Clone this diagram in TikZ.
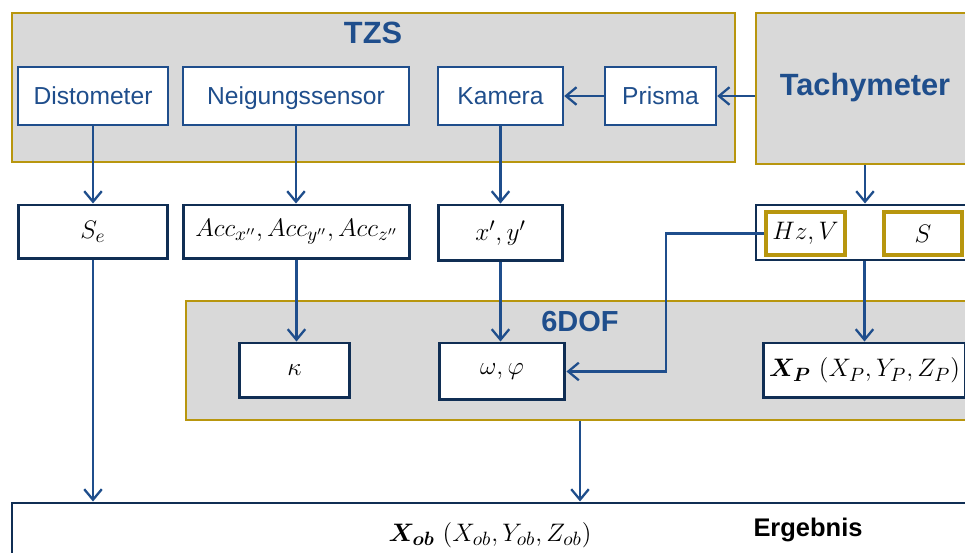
\documentclass[tikz,border=0pt]{standalone}
\usepackage{amsmath,amssymb}
\usepackage{fontspec}
\setsansfont{Liberation Sans}
\usetikzlibrary{arrows.meta,fit}

\definecolor{tzsblue}{RGB}{31,78,140}
\definecolor{navy}{RGB}{16,46,84}
\definecolor{gold}{RGB}{184,150,14}
\definecolor{panel}{RGB}{217,217,217}

\tikzset{
  panelbox/.style={draw=gold,fill=panel,line width=1.6pt,inner sep=0pt},
  sensorbox/.style={draw=tzsblue,fill=white,line width=1.4pt,minimum height=1.16cm,
    text height=11pt,text depth=1pt,
    font=\sffamily\fontsize{14}{16}\selectfont,text=tzsblue},
  valbox/.style={draw=navy,fill=white,line width=1.7pt,minimum height=1.1cm,
    font=\fontsize{15}{17}\selectfont},
  subbox/.style={draw=gold,fill=white,line width=1.8pt,minimum height=0.86cm,
    font=\fontsize{15}{17}\selectfont},
  paneltitle/.style={font=\sffamily\bfseries\fontsize{17.5}{19}\selectfont,text=tzsblue},
  flow/.style={draw=tzsblue,line width=1.3pt,-{Straight Barb[length=6pt,width=10pt]}}
}

\begin{document}
\begin{tikzpicture}[x=0.02cm,y=-0.02cm]
  \useasboundingbox (0,0) rectangle (965,553);
  \clip (0,0) rectangle (965,553);

  % groups
  \node[panelbox,fit={(12,13) (735,162)}]   (tzs)   {};
  \node[panelbox,fit={(756,13) (1000,164)}] (tachy) {};
  \node[panelbox,fit={(186,301) (1000,420)}] (dof)  {};
  \node[draw=navy,fill=white,line width=1.7pt,inner sep=0pt,fit={(12,503) (1000,600)}] (erg) {};

  \node[paneltitle] (tzslabel)   at (373,33) {TZS};
  \node[paneltitle] (tachylabel) at (865,88) {Tachymeter};
  \node[paneltitle,font=\sffamily\bfseries\fontsize{16.5}{18}\selectfont] (doflabel) at (580,322) {6DOF};

  % sensors in the TZS
  \node[sensorbox,minimum width=3cm]    (disto)  at (93,96)    {Distometer};
  \node[sensorbox,minimum width=4.52cm] (neig)   at (296,96)   {Neigungssensor};
  \node[sensorbox,minimum width=2.5cm]  (kamera) at (500.5,96) {Kamera};
  \node[sensorbox,minimum width=2.22cm] (prisma) at (660.5,96) {Prisma};

  % measured values
  \node[valbox,minimum width=3cm,minimum height=1.08cm]    (se)  at (93,232)    {$S_e$};
  \node[valbox,minimum width=4.54cm,minimum height=1.08cm] (acc) at (296.5,232) {$Acc_{x''},Acc_{y''},Acc_{z''}$};
  \node[valbox,minimum width=2.5cm,minimum height=1.12cm]  (xy)  at (500.5,233) {$x',y'$};
  \node[draw=navy,fill=white,line width=1.7pt,inner sep=0pt,fit={(756,205) (1000,260)}] (tout) {};
  \node[subbox,minimum width=1.58cm] (hzv) at (805.5,233.5) {$Hz,V$};
  \node[subbox,minimum width=1.56cm] (s)   at (923,233.5)   {$S$};

  % 6DOF
  \node[valbox,minimum width=2.22cm]                      (kappa) at (294.5,370.5) {$\kappa$};
  \node[valbox,minimum width=2.52cm,minimum height=1.14cm] (omphi) at (502,371.5)   {$\omega,\varphi$};
  \node[valbox,minimum width=3.9cm]                       (xp)    at (864.5,370.5) {$\boldsymbol{X_P}\ (X_P,Y_P,Z_P)$};

  % result
  \node[font=\fontsize{15}{17}\selectfont] (xob) at (490,535) {$\boldsymbol{X_{ob}}\ (X_{ob},Y_{ob},Z_{ob})$};
  \node[font=\sffamily\bfseries\fontsize{14.5}{16}\selectfont] (erglabel) at (808,530) {Ergebnis};

  \coordinate (knick) at (666,233.5);

  % connections
  \draw[flow] (tachy.west |- prisma.east) -- (prisma.east);
  \draw[flow] (prisma.west) -- (kamera.east);
  \draw[flow] (disto.south) -- (se.north);
  \draw[flow] (neig.south) -- (neig.south |- acc.north);
  \draw[flow] (kamera.south -| xy.south) -- (xy.north);
  \draw[flow] (tachylabel |- tachy.south) -- (tachylabel |- tout.north);
  \draw[flow] (acc.south) -- (acc.south |- kappa.north);
  \draw[flow] (xy.south) -- (xy.south |- omphi.north);
  \draw[flow] (hzv.west) -- (knick) |- (omphi.east);
  \draw[flow] (xp |- tout.south) -- (xp.north);
  \draw[flow] (se.south) -- (se.south |- erg.north);
  \draw[flow] (doflabel |- dof.south) -- (doflabel |- erg.north);
\end{tikzpicture}
\end{document}
